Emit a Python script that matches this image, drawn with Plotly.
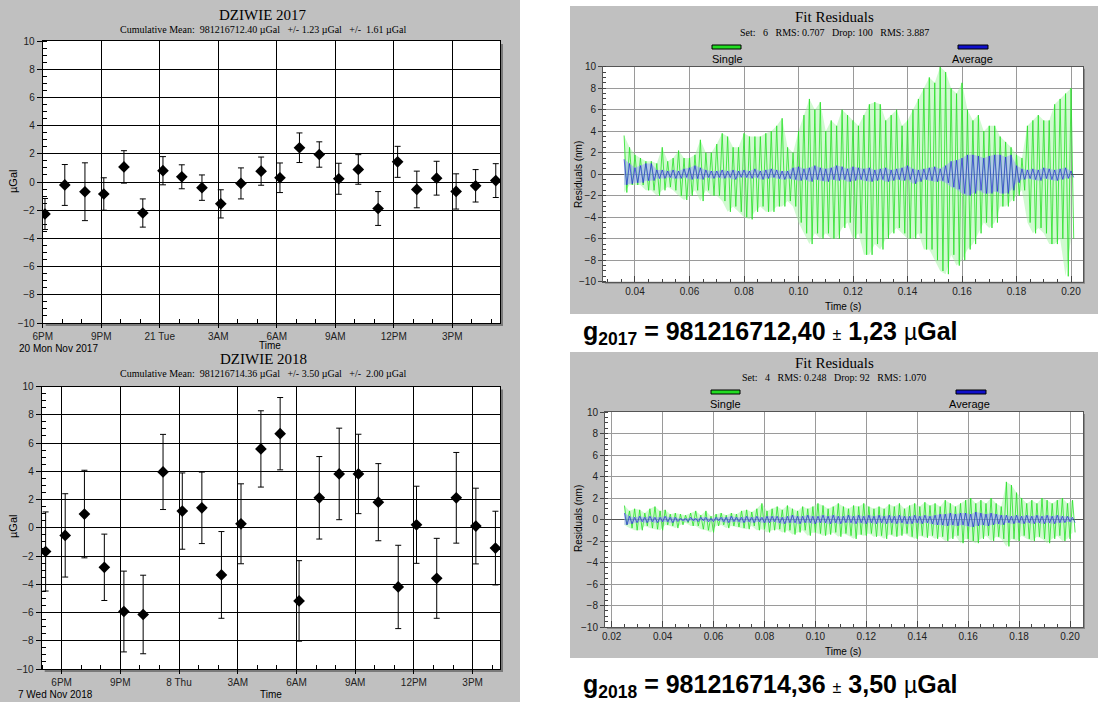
import plotly.graph_objects as go

W, H = 1098, 702

# ---------------- DZIWIE 2017 drop-set means ----------------
T17 = ["2017-11-20 18:07", "2017-11-20 19:08", "2017-11-20 20:10", "2017-11-20 21:08",
       "2017-11-20 22:10", "2017-11-20 23:08", "2017-11-21 00:10", "2017-11-21 01:08",
       "2017-11-21 02:10", "2017-11-21 03:08", "2017-11-21 04:10", "2017-11-21 05:12",
       "2017-11-21 06:10", "2017-11-21 07:10", "2017-11-21 08:11", "2017-11-21 09:11",
       "2017-11-21 10:11", "2017-11-21 11:12", "2017-11-21 12:12", "2017-11-21 13:11",
       "2017-11-21 14:12", "2017-11-21 15:12", "2017-11-21 16:12", "2017-11-21 17:14"]
V17 = [-2.27, -0.21, -0.69, -0.85, 1.07, -2.2, 0.8, 0.37, -0.4, -1.55, -0.1, 0.77,
       0.3, 2.43, 1.95, 0.23, 0.89, -1.88, 1.43, -0.53, 0.27, -0.67, -0.27, 0.1]
E17 = [1.1, 1.45, 2.05, 1.15, 1.15, 1.0, 1.0, 0.85, 0.9, 1.0, 1.1, 1.0,
       1.05, 1.05, 0.9, 1.1, 1.05, 1.2, 1.1, 1.3, 1.2, 1.25, 1.15, 1.2]

# ---------------- DZIWIE 2018 drop-set means ----------------
T18 = ["2018-11-07 17:11", "2018-11-07 18:11", "2018-11-07 19:10", "2018-11-07 20:11",
       "2018-11-07 21:11", "2018-11-07 22:10", "2018-11-07 23:11", "2018-11-08 00:10",
       "2018-11-08 01:10", "2018-11-08 02:10", "2018-11-08 03:10", "2018-11-08 04:11",
       "2018-11-08 05:10", "2018-11-08 06:08", "2018-11-08 07:10", "2018-11-08 08:11",
       "2018-11-08 09:10", "2018-11-08 10:11", "2018-11-08 11:12", "2018-11-08 12:08",
       "2018-11-08 13:10", "2018-11-08 14:10", "2018-11-08 15:10", "2018-11-08 16:10"]
V18 = [-1.68, -0.54, 0.97, -2.8, -5.93, -6.14, 3.95, 1.18, 1.41, -3.34, 0.28, 5.58,
       6.66, -5.18, 2.12, 3.81, 3.81, 1.81, -4.19, 0.21, -3.58, 2.12, 0.12, -1.44]
E18 = [2.8, 2.95, 3.1, 2.35, 2.86, 2.78, 2.66, 2.7, 2.53, 3.07, 2.83, 2.7,
       2.56, 2.85, 2.92, 3.24, 2.81, 2.73, 2.95, 2.73, 2.83, 3.21, 2.68, 2.61]

TICKS17 = ["2017-11-20 18:00", "2017-11-20 21:00", "2017-11-21 00:00", "2017-11-21 03:00",
           "2017-11-21 06:00", "2017-11-21 09:00", "2017-11-21 12:00", "2017-11-21 15:00"]
LABELS17 = ["6PM", "9PM", "21 Tue", "3AM", "6AM", "9AM", "12PM", "3PM"]
TICKS18 = ["2018-11-07 18:00", "2018-11-07 21:00", "2018-11-08 00:00", "2018-11-08 03:00",
           "2018-11-08 06:00", "2018-11-08 09:00", "2018-11-08 12:00", "2018-11-08 15:00"]
LABELS18 = ["6PM", "9PM", "8 Thu", "3AM", "6AM", "9AM", "12PM", "3PM"]

# ---------------- Fit residuals 2017 (envelope extremes read every 2 ms) ----------------
R17_T0, R17_DT = 0.036, 0.002
G17_HI = [3.6, 2.5, 1.8, 1.5, 1.2, 1.2, 1.0, 2.5, 1.2, 1.5,
          2.2, 1.5, 1.5, 1.8, 3.2, 2.0, 2.0, 2.8, 3.8, 3.5,
          2.5, 2.5, 3.8, 3.5, 3.5, 3.5, 3.8, 4.0, 4.5, 5.2,
          2.5, 2.0, 4.0, 5.5, 7.0, 6.0, 6.7, 4.0, 5.0, 4.5,
          6.0, 5.5, 5.0, 4.5, 5.5, 6.5, 6.7, 6.5, 5.0, 5.5,
          6.0, 4.5, 5.0, 6.0, 7.0, 8.0, 9.0, 8.5, 10.0, 9.5,
          8.0, 7.5, 8.5, 6.0, 5.0, 5.5, 4.0, 4.5, 4.5, 3.5,
          3.0, 2.5, 1.8, 1.5, 4.5, 5.0, 5.5, 5.0, 5.0, 6.5,
          7.0, 7.5, 8.0]
G17_LO = [-1.7, -1.0, -1.0, -1.0, -1.5, -1.5, -2.0, -1.5, -1.2, -1.5,
          -2.0, -2.4, -2.0, -1.5, -2.5, -1.5, -2.0, -2.0, -2.5, -3.5,
          -3.0, -3.5, -4.0, -4.2, -3.5, -3.0, -3.5, -3.5, -3.0, -3.0,
          -2.5, -3.0, -4.5, -5.5, -6.5, -5.5, -6.0, -5.5, -6.0, -6.0,
          -5.0, -4.5, -6.0, -5.5, -7.5, -7.5, -6.5, -7.0, -6.0, -5.5,
          -5.0, -5.5, -6.0, -6.0, -5.5, -7.0, -7.0, -8.0, -9.0, -9.3,
          -7.5, -8.5, -8.0, -7.0, -6.5, -5.5, -4.5, -5.0, -4.5, -3.0,
          -3.0, -2.5, -2.0, -1.5, -4.5, -5.5, -5.0, -5.5, -6.5, -6.5,
          -6.0, -9.5, -6.0]
B17_HI = [1.4, 1.0, 0.6, 0.8, 1.0, 1.0, 0.4, 0.4, 0.3, 0.4,
          0.3, 0.5, 0.6, 0.8, 0.6, 0.4, 0.3, 0.3, 0.4, 0.3,
          0.4, 0.3, 0.4, 0.3, 0.5, 0.3, 0.4, 0.5, 0.4, 0.3,
          0.3, 0.6, 0.7, 0.5, 0.6, 0.8, 0.6, 0.5, 0.6, 0.8,
          0.7, 0.5, 0.7, 0.6, 0.5, 0.6, 0.4, 0.5, 0.6, 0.4,
          0.5, 0.6, 0.8, 0.5, 0.4, 0.5, 0.6, 0.7, 0.5, 0.8,
          1.2, 1.3, 1.5, 1.8, 1.8, 1.7, 1.5, 1.7, 1.8, 1.8,
          1.6, 1.8, 0.8, 0.5, 0.4, 0.5, 0.4, 0.6, 0.5, 0.4,
          0.5, 0.6, 0.3]
B17_LO = [-1.0, -0.9, -0.8, -0.8, -0.6, -0.6, -0.4, -0.4, -0.3, -0.4,
          -0.4, -0.3, -0.5, -0.4, -0.5, -0.3, -0.4, -0.3, -0.4, -0.3,
          -0.5, -0.3, -0.3, -0.4, -0.3, -0.5, -0.4, -0.3, -0.4, -0.5,
          -0.4, -0.5, -0.6, -0.5, -0.7, -0.5, -0.6, -0.7, -0.5, -0.6,
          -0.5, -0.7, -0.6, -0.5, -0.6, -0.7, -0.6, -0.5, -0.7, -0.6,
          -0.5, -0.6, -0.5, -0.9, -0.7, -0.5, -0.6, -0.7, -0.6, -0.8,
          -1.2, -1.4, -1.8, -2.0, -1.8, -1.5, -1.8, -1.8, -1.6, -1.8,
          -1.8, -1.5, -0.8, -0.5, -0.4, -0.5, -0.6, -0.4, -0.5, -0.6,
          -0.5, -0.4, -0.3]

# ---------------- Fit residuals 2018 ----------------
R18_T0, R18_DT = 0.025, 0.002
G18_HI = [1.3, 0.8, 1.0, 0.9, 0.6, 1.0, 1.2, 0.8, 0.9, 0.5,
          0.6, 0.5, 0.4, 0.6, 0.8, 0.4, 0.8, 0.3, 0.5, 0.6,
          0.4, 0.6, 0.5, 0.8, 0.9, 0.7, 1.0, 1.5, 0.8, 1.0,
          1.2, 0.9, 1.3, 1.0, 0.8, 1.2, 1.0, 1.2, 1.5, 1.3,
          1.0, 1.2, 1.5, 1.2, 1.0, 1.3, 1.2, 1.5, 1.2, 1.0,
          1.2, 1.0, 1.4, 1.2, 1.5, 1.0, 1.3, 1.5, 1.2, 1.6,
          1.3, 1.5, 1.2, 1.8, 1.5, 1.2, 1.5, 1.8, 2.0, 1.5,
          1.8, 1.5, 2.0, 1.5, 1.2, 3.5, 3.2, 2.5, 2.0, 1.5,
          1.8, 1.5, 2.0, 1.8, 1.5, 1.8, 2.0, 1.5, 1.8]
G18_LO = [-0.5, -0.8, -1.0, -1.0, -0.6, -0.8, -0.9, -1.0, -0.5, -0.6,
          -0.8, -0.5, -0.3, -0.6, -0.6, -0.9, -1.0, -1.2, -0.6, -0.5,
          -0.8, -0.6, -0.7, -0.8, -0.9, -0.6, -1.0, -0.9, -1.2, -1.0,
          -0.9, -1.2, -1.0, -1.4, -1.2, -1.0, -1.5, -1.2, -1.3, -1.5,
          -1.4, -1.2, -1.6, -1.3, -1.5, -1.8, -1.4, -1.5, -1.3, -1.6,
          -1.5, -1.8, -1.4, -1.6, -1.5, -1.3, -1.6, -1.8, -1.5, -1.7,
          -1.5, -1.8, -1.6, -2.0, -1.8, -1.5, -2.2, -1.8, -2.0, -2.2,
          -1.8, -1.5, -2.0, -1.6, -1.8, -2.5, -1.8, -2.0, -1.5, -1.8,
          -2.0, -1.6, -1.8, -2.2, -1.8, -1.5, -2.0, -1.8, -1.2]
B18_HI = [0.6, 0.3, 0.2, 0.3, 0.2, 0.3, 0.2, 0.2, 0.3, 0.2,
          0.2, 0.1, 0.1, 0.2, 0.1, 0.2, 0.2, 0.1, 0.2, 0.2,
          0.2, 0.3, 0.2, 0.2, 0.3, 0.2, 0.3, 0.2, 0.3, 0.3,
          0.3, 0.2, 0.3, 0.4, 0.3, 0.3, 0.4, 0.3, 0.3, 0.4,
          0.3, 0.4, 0.3, 0.3, 0.4, 0.3, 0.4, 0.3, 0.4, 0.3,
          0.4, 0.3, 0.4, 0.3, 0.4, 0.3, 0.3, 0.4, 0.3, 0.4,
          0.3, 0.4, 0.5, 0.5, 0.6, 0.5, 0.6, 0.6, 0.5, 0.7,
          0.6, 0.5, 0.6, 0.5, 0.4, 0.4, 0.3, 0.4, 0.3, 0.4,
          0.3, 0.4, 0.3, 0.4, 0.3, 0.4, 0.3, 0.3, 0.2]
B18_LO = [-0.5, -0.4, -0.3, -0.2, -0.3, -0.2, -0.3, -0.2, -0.2, -0.3,
          -0.2, -0.1, -0.2, -0.1, -0.2, -0.1, -0.2, -0.2, -0.1, -0.2,
          -0.3, -0.2, -0.2, -0.3, -0.2, -0.3, -0.2, -0.3, -0.3, -0.2,
          -0.3, -0.4, -0.3, -0.3, -0.4, -0.3, -0.3, -0.4, -0.3, -0.3,
          -0.4, -0.3, -0.4, -0.3, -0.3, -0.4, -0.3, -0.4, -0.3, -0.4,
          -0.3, -0.4, -0.3, -0.4, -0.3, -0.4, -0.4, -0.3, -0.4, -0.3,
          -0.4, -0.5, -0.5, -0.6, -0.5, -0.6, -0.5, -0.6, -0.7, -0.6,
          -0.5, -0.6, -0.5, -0.4, -0.5, -0.3, -0.4, -0.3, -0.4, -0.3,
          -0.4, -0.3, -0.4, -0.3, -0.4, -0.3, -0.3, -0.2, -0.3]


def X(p):
    return p / W


def Y(p):
    return 1 - p / H


def zigzag(t0, dt, hi, lo):
    xs, ys = [], []
    for i in range(min(len(hi), len(lo))):
        t = t0 + i * dt
        xs += [t, t + dt / 2]
        ys += [hi[i], lo[i]]
    return xs, ys


def band(t0, dt, hi, lo):
    n = min(len(hi), len(lo))
    ts = [t0 + i * dt for i in range(n)]
    return ts + ts[::-1], list(hi[:n]) + list(lo[:n])[::-1]


SERIF = "Liberation Serif"
SANS = "Liberation Sans"
GRAY = "#c0c0c0"

fig = go.Figure()

# ---- left panels ----
for ax, T, V, E in (("", T17, V17, E17), ("2", T18, V18, E18)):
    fig.add_trace(go.Scatter(
        x=T, y=V, mode="markers", xaxis="x" + ax, yaxis="y" + ax,
        marker=dict(symbol="diamond", size=9, color="black"),
        error_y=dict(type="data", array=E, color="black", thickness=1, width=3),
        hoverinfo="skip"))

# ---- right panels ----
for ax, t0, dt, ghi, glo, bhi, blo in (("3", R17_T0, R17_DT, G17_HI, G17_LO, B17_HI, B17_LO),
                                       ("4", R18_T0, R18_DT, G18_HI, G18_LO, B18_HI, B18_LO)):
    gbx, gby = band(t0, dt, ghi, glo)
    fig.add_trace(go.Scatter(x=gbx, y=gby, mode="lines", fill="toself", xaxis="x" + ax, yaxis="y" + ax,
                             fillcolor="rgba(150,245,150,0.45)", line=dict(width=0), hoverinfo="skip"))
    gx, gy = zigzag(t0, dt, ghi, glo)
    fig.add_trace(go.Scatter(x=gx, y=gy, mode="lines", xaxis="x" + ax, yaxis="y" + ax,
                             line=dict(color="rgba(40,225,40,0.8)", width=1), hoverinfo="skip"))
    bbx, bby = band(t0, dt, bhi, blo)
    fig.add_trace(go.Scatter(x=bbx, y=bby, mode="lines", fill="toself", xaxis="x" + ax, yaxis="y" + ax,
                             fillcolor="rgba(150,150,255,0.5)", line=dict(width=0), hoverinfo="skip"))
    bx, by = zigzag(t0, dt, bhi, blo)
    fig.add_trace(go.Scatter(x=bx, y=by, mode="lines", xaxis="x" + ax, yaxis="y" + ax,
                             line=dict(color="rgba(25,25,215,0.6)", width=1), hoverinfo="skip"))

tickfont = dict(family=SANS, size=10, color="#222")


def left_x(rng, tv, tt, dom):
    return dict(type="date", range=rng, domain=dom, tickmode="array", tickvals=tv, ticktext=tt,
                showline=True, mirror=True, linecolor="black", linewidth=1,
                showgrid=True, gridcolor="black", gridwidth=1,
                ticks="outside", ticklen=4, tickcolor="black", tickfont=tickfont,
                minor=dict(ticks="inside", dtick=3600000, ticklen=4, tickcolor="black", showgrid=False),
                zeroline=False, fixedrange=True, automargin=False)


def left_y(dom, anchor):
    return dict(range=[-10, 10], domain=dom, anchor=anchor, dtick=2, tick0=0,
                showline=True, mirror=True, linecolor="black", linewidth=1,
                showgrid=True, gridcolor="black", gridwidth=1,
                ticks="outside", ticklen=5, tickcolor="black", tickfont=tickfont,
                minor=dict(ticks="inside", dtick=0.5, ticklen=4, tickcolor="black", showgrid=False),
                zeroline=False, fixedrange=True, automargin=False)


def right_x(rng, dom, anchor):
    return dict(range=rng, domain=dom, anchor=anchor, dtick=0.02, tick0=0, tickformat=".2f",
                showline=True, mirror=True, linecolor="#555", linewidth=1,
                showgrid=True, gridcolor="#9a9a9a", gridwidth=1,
                ticks="inside", ticklen=6, tickcolor="#444", tickfont=tickfont,
                minor=dict(ticks="inside", dtick=0.005, ticklen=3, tickcolor="#444", showgrid=False),
                zeroline=False, fixedrange=True, automargin=False)


def right_y(dom, anchor):
    return dict(range=[-10, 10], domain=dom, anchor=anchor, dtick=2, tick0=0,
                showline=True, mirror=True, linecolor="#555", linewidth=1,
                showgrid=True, gridcolor="#9a9a9a", gridwidth=1,
                ticks="outside", ticklen=4, tickcolor="#444", tickfont=tickfont,
                minor=dict(ticks="inside", dtick=0.5, ticklen=3, tickcolor="#444", showgrid=False),
                zeroline=True, zerolinecolor="#555", zerolinewidth=1, fixedrange=True,
                automargin=False)


TL = (42.7, 41, 500, 323)
BL = (41.7, 386.5, 500, 669)
TR = (603, 66.7, 1083, 281.7)
BR = (605, 412, 1083, 627)


def xd(b):
    return [X(b[0]), X(b[2])]


def yd(b):
    return [Y(b[3]), Y(b[1])]


layout_axes = dict(
    xaxis=dict(left_x(["2017-11-20 18:00", "2017-11-21 17:27"], TICKS17, LABELS17, xd(TL)), anchor="y"),
    yaxis=left_y(yd(TL), "x"),
    xaxis2=dict(left_x(["2018-11-07 16:59", "2018-11-08 16:24"], TICKS18, LABELS18, xd(BL)), anchor="y2"),
    yaxis2=left_y(yd(BL), "x2"),
    xaxis3=right_x([0.02826, 0.2044], xd(TR), "y3"),
    yaxis3=right_y(yd(TR), "x3"),
    xaxis4=right_x([0.01737, 0.2051], xd(BR), "y4"),
    yaxis4=right_y(yd(BR), "x4"),
)


def rect(x0, y0, x1, y1, fill, line=None, lw=0):
    return dict(type="rect", xref="paper", yref="paper", x0=X(x0), x1=X(x1), y0=Y(y1), y1=Y(y0),
                fillcolor=fill, line=dict(color=line or fill, width=lw), layer="below")


shapes = [
    rect(0, 0, 520, 702, GRAY),
    rect(570, 6, 1098, 314, GRAY),
    rect(570, 352, 1098, 658, GRAY),
    # shadows
    rect(TL[0] + 3, TL[1] + 3, TL[2] + 3, TL[3] + 3, "#7a7a7a"),
    rect(BL[0] + 3, BL[1] + 3, BL[2] + 3, BL[3] + 3, "#7a7a7a"),
    rect(TR[0] + 2, TR[1] + 2, TR[2] + 2, TR[3] + 2, "#8a8a8a"),
    rect(BR[0] + 2, BR[1] + 2, BR[2] + 2, BR[3] + 2, "#8a8a8a"),
    # plot areas
    rect(*TL, "white"), rect(*BL, "white"), rect(*TR, "white"), rect(*BR, "white"),
    # legend swatches
    rect(712, 45, 741, 49, "#22dd22", "black", 1),
    rect(958, 45, 988, 49, "#1010cc", "black", 1),
    rect(711, 390, 740, 394, "#22dd22", "black", 1),
    rect(956, 390, 986, 394, "#1010cc", "black", 1),
]


def txt(x, y, s, size, fam=SANS, xa="center", ya="middle", angle=0, color="black"):
    return dict(x=X(x), y=Y(y), xref="paper", yref="paper", text=s, showarrow=False,
                xanchor=xa, yanchor=ya, textangle=angle, borderpad=0,
                font=dict(family=fam, size=size, color=color))


annotations = [
    txt(263, 15, "DZIWIE 2017", 15, SERIF),
    txt(263, 30, "Cumulative Mean:  981216712.40 µGal   +/- 1.23 µGal   +/-  1.61 µGal", 10, SERIF),
    txt(13, 182, "µGal", 11, angle=-90),
    txt(18, 349, "20 Mon Nov 2017", 10, xa="left"),
    txt(270, 345, "Time", 10),
    txt(263, 359, "DZIWIE 2018", 15, SERIF),
    txt(263, 374, "Cumulative Mean:  981216714.36 µGal   +/- 3.50 µGal   +/-  2.00 µGal", 10, SERIF),
    txt(13, 527, "µGal", 11, angle=-90),
    txt(17, 694, "7 Wed Nov 2018", 10, xa="left"),
    txt(271, 694, "Time", 10),
    # right panels
    txt(834, 17, "Fit Residuals", 15, SERIF),
    txt(834, 32, "Set:   6   RMS: 0.707   Drop: 100   RMS: 3.887", 10, SERIF),
    txt(727, 59, "Single", 11),
    txt(973, 59, "Average", 11),
    txt(578, 175, "Residuals (nm)", 10, angle=-90),
    txt(843, 307, "Time (s)", 10),
    txt(834, 363, "Fit Residuals", 15, SERIF),
    txt(834, 377, "Set:   4   RMS: 0.248   Drop: 92   RMS: 1.070", 10, SERIF),
    txt(725, 404, "Single", 11),
    txt(970, 404, "Average", 11),
    txt(578, 519, "Residuals (nm)", 10, angle=-90),
    txt(843, 651, "Time (s)", 10),
    # summary values
    txt(582, 333, "<b>g<sub>2017</sub> = 981216712,40</b> <span style='font-size:16px'>±</span> "
                  "<b>1,23</b> <span style='font-size:23px'>µ</span><b>Gal</b>", 25, xa="left"),
    txt(582, 686, "<b>g<sub>2018</sub> = 981216714,36</b> <span style='font-size:16px'>±</span> "
                  "<b>3,50</b> <span style='font-size:23px'>µ</span><b>Gal</b>", 25, xa="left"),
]

fig.update_layout(
    width=W, height=H, margin=dict(l=0, r=0, t=0, b=0, pad=0, autoexpand=False),
    paper_bgcolor="white", plot_bgcolor="white", showlegend=False,
    shapes=shapes, annotations=annotations, **layout_axes)

fig.write_html("out.html", config={"displayModeBar": False},
               post_script="document.body.style.margin='0px';")
